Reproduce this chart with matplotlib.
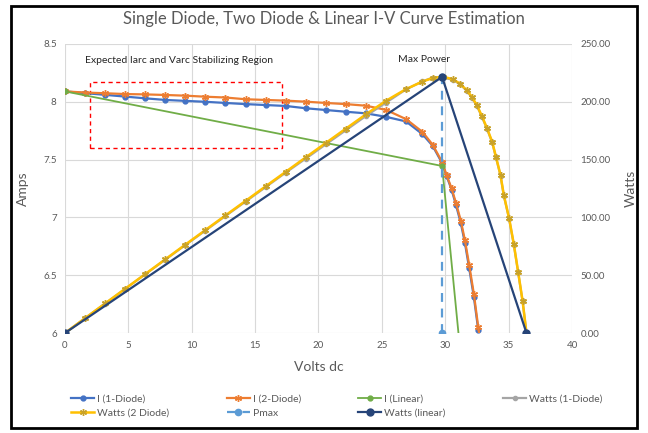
import matplotlib
matplotlib.use("Agg")
import matplotlib.pyplot as plt
from matplotlib.patches import Rectangle

# I-V data (volts, amps)
V_IV = [0, 1.58, 3.17, 4.75, 6.33, 7.92, 9.50, 11.08, 12.66, 14.25, 15.83, 17.41,
        19.00, 20.58, 22.16, 23.75, 25.33, 26.91, 28.20, 29.00, 29.75, 30.10, 30.50,
        30.84, 31.23, 31.55, 31.89, 32.26, 32.60, 33.00]
I_1DIODE = [8.09, 8.075, 8.06, 8.045, 8.03, 8.016, 8.008, 8.0, 7.99, 7.98, 7.972, 7.964,
            7.944, 7.929, 7.914, 7.90, 7.87, 7.83, 7.72, 7.62, 7.47, 7.36, 7.24,
            7.11, 6.95, 6.78, 6.56, 6.31, 6.03, 5.68]
I_2DIODE = [8.09, 8.08, 8.074, 8.067, 8.064, 8.059, 8.053, 8.044, 8.037, 8.022, 8.016, 8.010,
            8.001, 7.99, 7.98, 7.966, 7.93, 7.85, 7.74, 7.63, 7.48, 7.367, 7.252,
            7.127, 6.971, 6.804, 6.588, 6.337, 6.055, 5.72]

# P-V data (volts, watts)
V_PW = [0, 1.58, 3.17, 4.75, 6.33, 7.92, 9.50, 11.08, 12.66, 14.25, 15.83, 17.41,
        19.00, 20.58, 22.16, 23.75, 25.33, 26.91, 28.20, 29.00, 29.80, 30.60, 31.15,
        31.70, 32.10, 32.50, 32.90, 33.30, 33.70, 34.00, 34.36, 34.62, 35.04, 35.41,
        35.75, 36.10, 36.41]
W_2DIODE = [0, 12.8, 25.6, 38.3, 51.0, 63.8, 76.5, 89.1, 101.7, 114.3, 126.9, 139.4,
            152.0, 164.4, 176.8, 189.2, 200.9, 211.0, 217.5, 220.5, 221.8, 219.5, 215.8,
            210.0, 204.2, 197.0, 187.5, 177.0, 165.5, 152.5, 136.7, 119.4, 99.2, 76.9,
            53.0, 27.9, 0.0]
W_1DIODE = [0, 12.8, 25.5, 38.2, 50.8, 63.5, 76.1, 88.6, 101.2, 113.7, 126.2, 138.7,
            150.9, 163.2, 175.4, 187.8, 199.3, 210.7, 217.7, 220.9, 221.0, 219.0, 215.3,
            209.5, 203.6, 196.4, 186.9, 176.4, 164.9, 152.0, 136.2, 118.9, 98.7, 76.4,
            52.6, 27.6, 0.0]

# linear model: Isc, max power point, Voc
V_LIN = [0, 29.75, 36.41]
I_LIN = [8.09, 7.445, 0]
W_LIN = [0, 221.5, 0]
V_PMAX = [29.75, 29.75]
W_PMAX = [0, 221.5]

plt.rcParams['font.family'] = ['Lato', 'DejaVu Sans']
GREY = "#595959"

fig = plt.figure(figsize=(6.48, 4.33), dpi=100)
ax = fig.add_axes([0.1003, 0.2309, 0.7824, 0.6675])
ax2 = ax.twinx()

h1, = ax.plot(V_IV, I_1DIODE, color="#4472C4", lw=1.6, marker="o", ms=3.5,
              label="I (1-Diode)")
h2, = ax.plot(V_IV, I_2DIODE, color="#ED7D31", lw=1.6, marker=(6, 2, 0), ms=5,
              label="I (2-Diode)")
h3, = ax.plot(V_LIN, I_LIN, color="#70AD47", lw=1.3, marker="o", ms=3.5,
              label="I (Linear)")
h4, = ax2.plot(V_PW, W_1DIODE, color="#A5A5A5", lw=1.6, marker="o", ms=3,
               label="Watts (1-Diode)")
h5, = ax2.plot(V_PW, W_2DIODE, color="#FFC000", lw=1.8, marker=(6, 2, 0), ms=5,
               mec="#C9A227", label="Watts (2 Diode)")
h6, = ax2.plot(V_PMAX, W_PMAX, color="#5B9BD5", lw=1.6, ls=(0, (4, 3)), marker="o",
               ms=4.5, label="Pmax")
h7, = ax2.plot(V_LIN, W_LIN, color="#264478", lw=1.6, marker="o", ms=5,
               label="Watts (linear)")
h7.set_markersize(5)

ax.set_xlim(0, 40)
ax.set_ylim(6, 8.5)
ax2.set_ylim(0, 250)
ax.set_xticks(range(0, 41, 5))
ax.set_yticks([6, 6.5, 7, 7.5, 8, 8.5])
ax.set_yticklabels(["6", "6.5", "7", "7.5", "8", "8.5"])
ax2.set_yticks(range(0, 251, 50))
ax2.set_yticklabels([f"{v:.2f}" for v in range(0, 251, 50)])

for a in (ax, ax2):
    for s in a.spines.values():
        s.set_visible(False)
    a.tick_params(length=0, labelsize=7, labelcolor=GREY, pad=6)
ax.grid(True, color="#D9D9D9", lw=0.8)
ax.set_axisbelow(True)

ax.set_xlabel("Volts dc", color=GREY, fontsize=10, labelpad=8)
ax.set_ylabel("Amps", color=GREY, fontsize=10, labelpad=10)
ax2.set_ylabel("Watts", color=GREY, fontsize=10, labelpad=10)
fig.suptitle("Single Diode, Two Diode & Linear I-V Curve Estimation", color=GREY,
             fontsize=12, y=0.975)

# stabilizing region box + labels
ax.add_patch(Rectangle((2.0, 7.6), 15.1, 0.57, fill=False, ec="#FF0000", lw=1,
                       ls=(0, (3, 2.5))))
ax.text(1.6, 8.36, "Expected Iarc and Varc Stabilizing Region", fontsize=7.5,
        color="#262626", va="center", ha="left")
ax.text(28.3, 8.37, "Max Power", fontsize=7.5, color="#262626", va="center",
        ha="center")

handles = [h1, h5, h2, h6, h3, h7, h4]
fig.legend(handles, [h.get_label() for h in handles], ncol=4, loc="center",
           bbox_to_anchor=(0.52, 0.062), frameon=False, fontsize=7.5,
           labelcolor=GREY, handlelength=2.2, columnspacing=5.5, handletextpad=0.3,
           labelspacing=0.45)

fig.add_artist(Rectangle((0.017, 0.012), 0.966, 0.975, transform=fig.transFigure,
                         fill=False, ec="black", lw=2))

fig.savefig("out.png", dpi=100)
